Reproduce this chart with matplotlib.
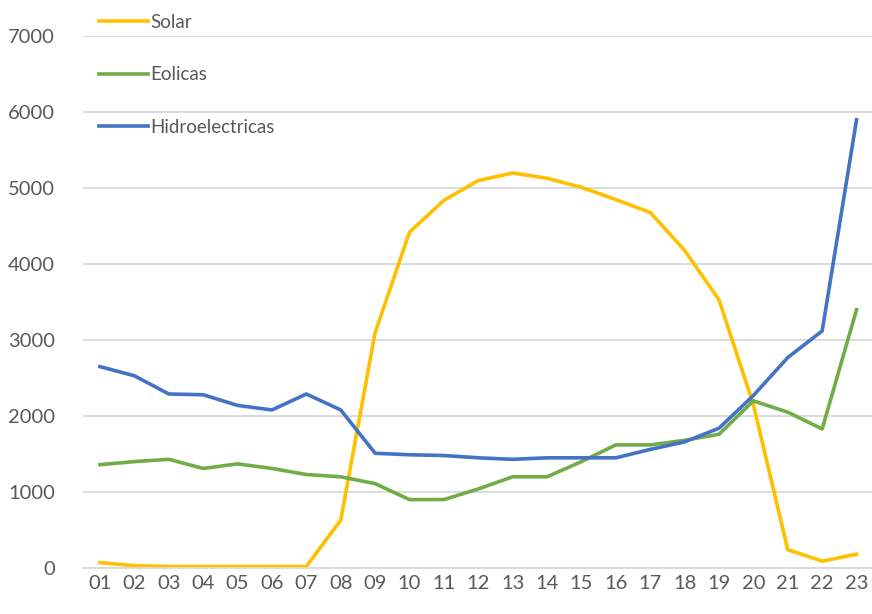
import matplotlib
matplotlib.use("Agg")
import matplotlib.pyplot as plt

# hourly generation by source (MW)
horas = ["01", "02", "03", "04", "05", "06", "07", "08", "09", "10", "11", "12",
         "13", "14", "15", "16", "17", "18", "19", "20", "21", "22", "23"]
solar = [70, 30, 20, 20, 20, 20, 20, 630, 3100, 4420, 4840, 5100, 5200, 5130,
         5010, 4850, 4680, 4180, 3530, 2150, 240, 90, 180]
eolicas = [1360, 1400, 1430, 1310, 1370, 1310, 1230, 1200, 1110, 900, 900, 1040,
           1200, 1200, 1400, 1620, 1620, 1680, 1760, 2200, 2050, 1830, 3400]
hidro = [2650, 2530, 2290, 2280, 2140, 2080, 2290, 2080, 1510, 1490, 1480, 1450,
         1430, 1450, 1450, 1450, 1560, 1660, 1840, 2270, 2770, 3120, 5900]

plt.rcParams['font.family'] = ['Lato', 'DejaVu Sans']

fig = plt.figure(figsize=(8.72, 6.14), dpi=100)
ax = fig.add_axes([0.095, 0.075, 0.907, 0.866])

x = range(len(horas))
ax.plot(x, solar, color='#FFC000', lw=2.6, label='Solar')
ax.plot(x, eolicas, color='#70AD47', lw=2.6, label='Eolicas')
ax.plot(x, hidro, color='#4472C4', lw=2.6, label='Hidroelectricas')

ax.set_xlim(-0.5, len(horas) - 0.5)
ax.set_ylim(0, 7000)
ax.set_xticks(list(x))
ax.set_xticklabels(horas)
ax.set_yticks(range(0, 7001, 1000))
ax.yaxis.grid(True, color='#d9d9d9', lw=1.3)
ax.set_axisbelow(True)
for s in ['top', 'right', 'left']:
    ax.spines[s].set_visible(False)
ax.spines['bottom'].set_color('#d9d9d9')
ax.spines['bottom'].set_linewidth(1.3)
ax.tick_params(length=0, labelsize=14.5, colors='#595959')
ax.tick_params(axis='x', pad=5)
ax.tick_params(axis='y', pad=20)

fig.legend(loc='upper left', bbox_to_anchor=(0.105, 0.99), frameon=False,
           fontsize=13.5, labelcolor='#595959', handlelength=2.6, handletextpad=0.15,
           labelspacing=1.9, borderaxespad=0)

fig.savefig('out.png', dpi=100, facecolor='white')
